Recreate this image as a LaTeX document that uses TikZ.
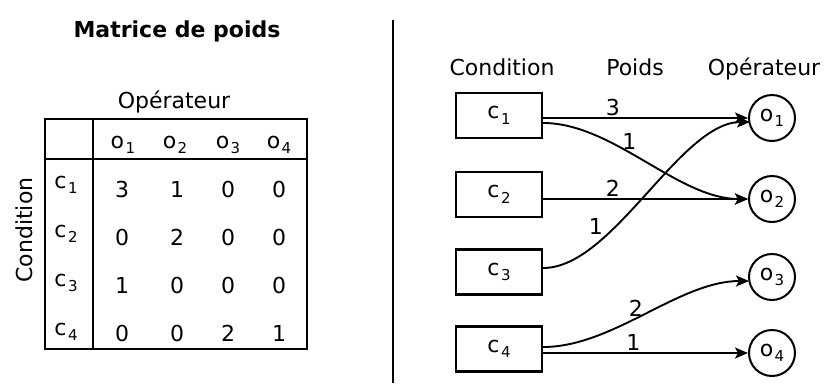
\documentclass[tikz,border=0pt]{standalone}
\usepackage{fontspec}
\setmainfont{DejaVu Sans}
\usetikzlibrary{arrows.meta,calc}
\newcommand{\ix}[2]{#1\kern1.5pt\raisebox{-5.5pt}{\fontsize{15}{15}\selectfont #2}}
\begin{document}
\begin{tikzpicture}[x=1pt,y=-1pt,
  every node/.style={font=\fontsize{22}{26}\selectfont, inner sep=0pt},
  tbl/.style={line width=2.2pt},
  txt/.style={anchor=base},
  cbox/.style={draw, line width=2.2pt, minimum width=86pt, minimum height=45pt},
  ocirc/.style={draw, circle, line width=2pt, minimum size=46pt},
  conn/.style={line width=1.9pt, -{Stealth[length=13pt,width=11pt,inset=3pt]}},
  wlab/.style={inner sep=1.5pt}
]
\useasboundingbox (0,0) rectangle (824,383);

% left panel
\node[txt, font=\bfseries\fontsize{22}{26}\selectfont] (title) at (177,37) {Matrice de poids};
\coordinate (septop) at (393,20);
\coordinate (sepbot) at (393,383);
\draw[line width=2.2pt] (septop) -- (sepbot);

\draw[tbl] (45,119) rectangle (307,349);
\draw[tbl] (93,119) -- (93,349);
\draw[tbl] (45,159) -- (307,159);

\node[txt] (topop) at (174,108) {Opérateur};
\node[txt, rotate=90] (leftcond) at (32,230) {Condition};

\node[txt] (h1) at (123,148) {\ix{o}{1}};
\node[txt] (h2) at (175,148) {\ix{o}{2}};
\node[txt] (h3) at (228,148) {\ix{o}{3}};
\node[txt] (h4) at (279,148) {\ix{o}{4}};

\node[txt] (r1) at (66,188) {\ix{c}{1}};
\node[txt] (r2) at (66,237) {\ix{c}{2}};
\node[txt] (r3) at (66,286) {\ix{c}{3}};
\node[txt] (r4) at (66,335) {\ix{c}{4}};

\node[txt] (v11) at (122,197) {3};
\node[txt] (v12) at (177,197) {1};
\node[txt] (v13) at (228,197) {0};
\node[txt] (v14) at (279,197) {0};
\node[txt] (v21) at (122,245) {0};
\node[txt] (v22) at (177,245) {2};
\node[txt] (v23) at (228,245) {0};
\node[txt] (v24) at (279,245) {0};
\node[txt] (v31) at (122,293) {1};
\node[txt] (v32) at (177,293) {0};
\node[txt] (v33) at (228,293) {0};
\node[txt] (v34) at (279,293) {0};
\node[txt] (v41) at (122,341) {0};
\node[txt] (v42) at (177,341) {0};
\node[txt] (v43) at (228,341) {2};
\node[txt] (v44) at (279,341) {1};

% right panel
\node[txt] (hc) at (502,75) {Condition};
\node[txt] (hp) at (635,75) {Poids};
\node[txt] (ho) at (764,75) {Opérateur};

\node[cbox] (c1) at (499,115.5) {\ix{c}{1}};
\node[cbox] (c2) at (499,194.5) {\ix{c}{2}};
\node[cbox] (c3) at (499,272) {\ix{c}{3}};
\node[cbox] (c4) at (499,349) {\ix{c}{4}};

\node[ocirc] (o1) at (772,118) {\ix{o}{1}};
\node[ocirc] (o2) at (772,199) {\ix{o}{2}};
\node[ocirc] (o3) at (772,277) {\ix{o}{3}};
\node[ocirc] (o4) at (772,353) {\ix{o}{4}};

\draw[conn] ($(c1.east)+(0,2.5)$) -- node[wlab, pos=0.34, above] (w11) {3} (o1.west);
\draw[conn] ($(c1.east)+(0,7.5)$) .. controls +(70,0) and +(-70,0) .. node[wlab, pos=0.42, above] (w12) {1} (o2.west);
\draw[conn] ($(c2.east)+(0,4.5)$) -- node[wlab, pos=0.34, above] (w22) {2} (o2.west);
\draw[conn] ($(c3.east)+(0,-4)$) .. controls +(70,0) and +(-70,0) .. node[wlab, pos=0.3, anchor=south east] (w31) {1} ($(o1.west)+(2,4)$);
\draw[conn] ($(c4.east)+(0,-2)$) .. controls +(70,0) and +(-70,0) .. node[wlab, pos=0.45, above] (w43) {2} ($(o3.west)+(1,4)$);
\draw[conn] ($(c4.east)+(0,4)$) -- node[wlab, pos=0.44, above] (w44) {1} (o4.west);
\end{tikzpicture}
\end{document}
